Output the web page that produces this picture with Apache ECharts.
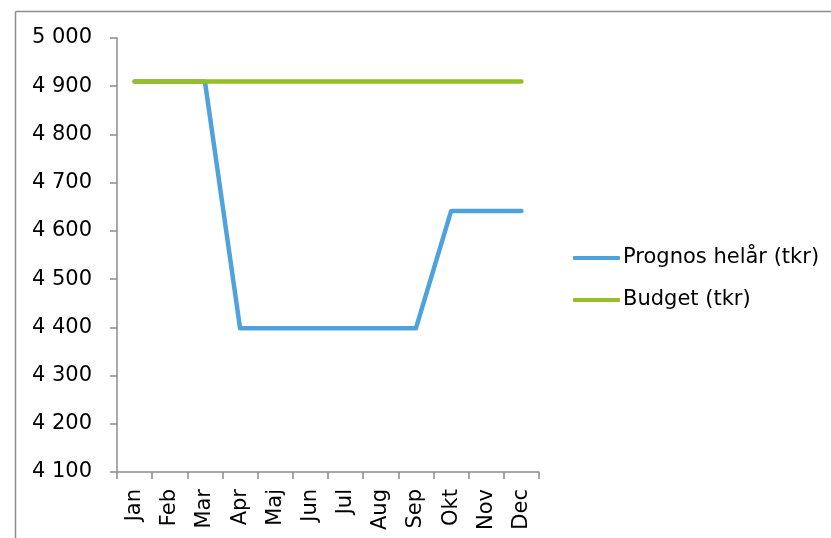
<!DOCTYPE html>
<html>
<head>
<meta charset="utf-8">
<script src="https://cdn.jsdelivr.net/npm/echarts@6/dist/echarts.min.js"></script>
<style>html,body{margin:0;padding:0;background:#fff}#c{width:831px;height:538px}</style>
</head>
<body>
<div id="c"></div>
<script>
const categories = ['Jan','Feb','Mar','Apr','Maj','Jun','Jul','Aug','Sep','Okt','Nov','Dec'];
const prognos = [4910,4910,4910,4398,4398,4398,4398,4398,4398,4641,4641,4641];
const budget = [4910,4910,4910,4910,4910,4910,4910,4910,4910,4910,4910,4910];
const seriesNames = ['Prognos helår (tkr)','Budget (tkr)'];

const chart = echarts.init(document.getElementById('c'), null, {renderer:'canvas'});
const font = 'DejaVu Sans';
const fs = 21;
chart.setOption({
  animation:false,
  backgroundColor:'#fff',
  graphic:[
    {type:'line', shape:{x1:15.5,y1:11.5,x2:831,y2:11.5}, style:{stroke:'#8c8c8c',lineWidth:1.5}},
    {type:'line', shape:{x1:15.5,y1:11.5,x2:15.5,y2:538}, style:{stroke:'#8c8c8c',lineWidth:1.5}}
  ],
  grid:{left:117,top:38,right:292,bottom:66,containLabel:false},
  legend:{
    orient:'vertical', left:573, top:247, padding:0,
    itemWidth:47, itemHeight:4, itemGap:20,
    icon:'roundRect',
    textStyle:{fontFamily:font,fontSize:fs,color:'#000',lineHeight:22,padding:[0,0,0,-2]},
    data:seriesNames
  },
  xAxis:{
    type:'category', data:categories, boundaryGap:true,
    axisLine:{lineStyle:{color:'#8c8c8c',width:1.5}},
    axisTick:{show:true,length:7,lineStyle:{color:'#8c8c8c',width:1.5}},
    axisLabel:{rotate:90,margin:17,fontFamily:font,fontSize:fs,color:'#000',interval:0}
  },
  yAxis:{
    type:'value', min:4100, max:5000, interval:100,
    splitLine:{show:false},
    axisLine:{show:true,lineStyle:{color:'#8c8c8c',width:1.5}},
    axisTick:{show:true,length:7,lineStyle:{color:'#8c8c8c',width:1.5}},
    axisLabel:{margin:25,fontFamily:font,fontSize:fs,color:'#000',
      formatter:v=>{const s=String(v);return s.length>3?s.slice(0,s.length-3)+' '+s.slice(-3):s;}}
  },
  series:[
    {name:seriesNames[0],type:'line',data:prognos,symbol:'none',lineStyle:{color:'#4ea3dc',width:4.5,cap:'round',join:'round'},itemStyle:{color:'#4ea3dc'}},
    {name:seriesNames[1],type:'line',data:budget,symbol:'none',lineStyle:{color:'#95c023',width:4.5,cap:'round',join:'round'},itemStyle:{color:'#95c023'}}
  ]
});
</script>
</body>
</html>
